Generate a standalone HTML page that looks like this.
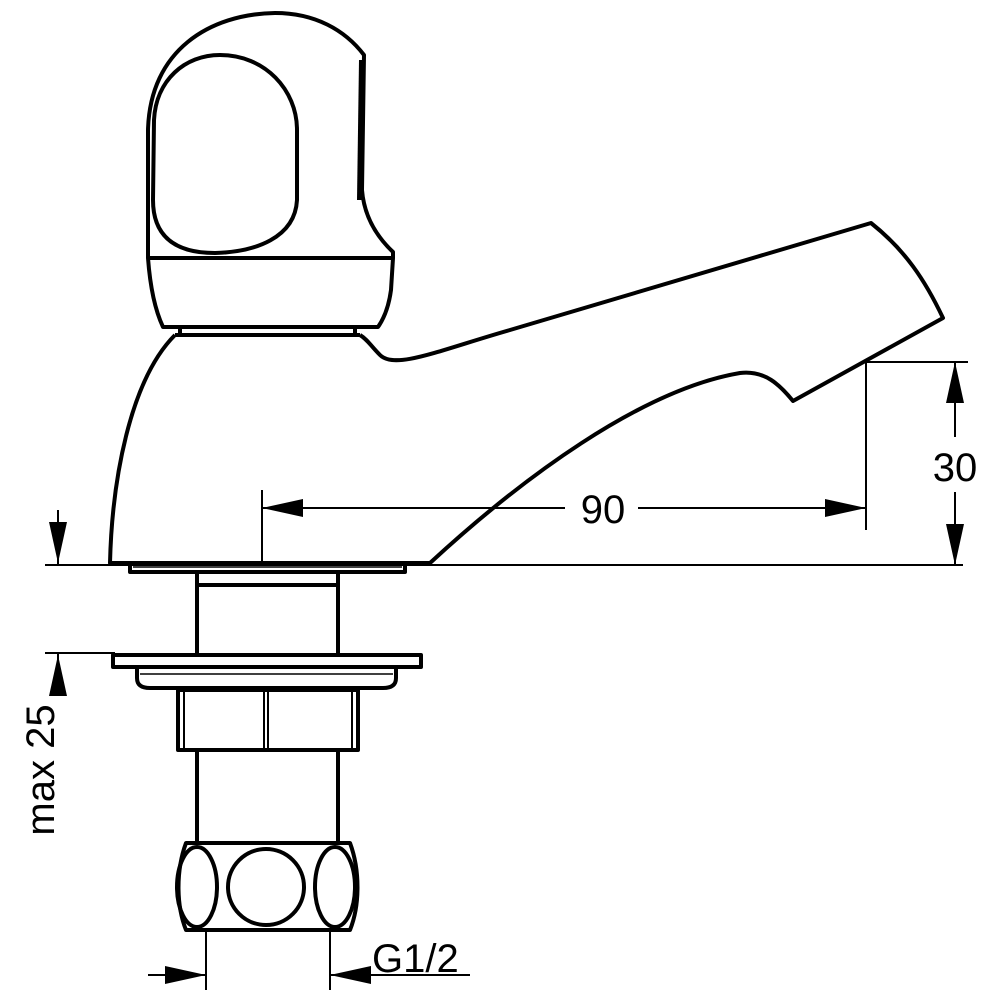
<!DOCTYPE html>
<html><head><meta charset="utf-8"><style>body{margin:0;background:#fff}svg{display:block}</style></head>
<body>
<svg width="1000" height="1000" viewBox="0 0 1000 1000" xmlns="http://www.w3.org/2000/svg">
<g fill="none" stroke="#000" stroke-width="4" stroke-linejoin="round">
<!-- handle -->
<path d="M148,258 L148,130 C150,50 210,14 275,13 C315,13 345,30 364,55 L362,190 C364,215 375,235 393,252 L393,258"/>
<path d="M148,258 L393,258 L391,290 C389,305 385,317 378,327 L163,327 C155,310 150,285 148,258 Z"/>
<path d="M220,55 C265,55 297,90 297,130 L297,200 C295,238 255,252 215,253 C170,253 153,232 153,200 L154,120 C156,80 185,55 220,55 Z"/>
<path d="M362,60 L360,200" stroke-width="6"/>
<path d="M180,327 L180,335 M355,327 L355,335 M175,335 L360,335"/>
<!-- body -->
<path d="M175,335 C130,380 112,480 110,563 L430,563 C520,480 640,390 740,373 C765,370 780,385 793,401 L943,318 C925,280 905,250 871,223 L510,330 C440,350 395,370 380,355 C370,345 368,340 360,335"/>
<!-- base plate & stem -->
<path d="M130,563 L130,572 L405,572 L405,563" />
<path d="M133,567 L402,567" stroke-width="1.5"/>
<path d="M197,572 L197,653 M338,572 L338,653 M197,585 L338,585"/>
<rect x="113" y="655" width="308" height="12"/>
<path d="M137,667 L137,678 C137,686 143,688 150,688 L383,688 C390,688 396,686 396,678 L396,667"/>
<path d="M140,674 L393,674" stroke-width="1.5"/>
<rect x="178" y="690" width="180" height="60"/>
<path d="M184,690 L184,750 M352,690 L352,750 M264,690 L264,750 M268,690 L268,750" stroke-width="2"/>
<path d="M197,750 L197,843 M338,750 L338,843"/>
<!-- hex nut -->
<path d="M186,843 L350,843 C360,870 360,905 350,930 L186,930 C176,905 176,870 186,843 Z"/>
<ellipse cx="197" cy="887" rx="20" ry="40"/>
<ellipse cx="335" cy="887" rx="20" ry="40"/>
<ellipse cx="266" cy="887" rx="38" ry="38"/>
</g>
<!-- dimensions -->
<g stroke="#000" stroke-width="2" fill="none">
<path d="M45,565 L963,565"/>
<path d="M866,362 L968,362 M866,362 L866,530"/>
<path d="M955,362 L955,437 M955,492 L955,565"/>
<path d="M262,490 L262,565"/>
<path d="M262,508 L565,508 M638,508 L866,508"/>
<path d="M58,510 L58,565"/>
<path d="M45,653 L115,653 M58,653 L58,690"/>
<path d="M206,930 L206,990 M330,930 L330,990"/>
<path d="M148,975 L206,975 M330,975 L470,975"/>
</g>
<g fill="#000">
<polygon points="955,362 946,403 964,403"/>
<polygon points="955,565 946,524 964,524"/>
<polygon points="262,508 303,499 303,517"/>
<polygon points="866,508 825,499 825,517"/>
<polygon points="58,563 49,522 67,522"/>
<polygon points="58,655 49,696 67,696"/>
<polygon points="206,975 165,966 165,984"/>
<polygon points="330,975 371,966 371,984"/>
</g>
<g font-family="Liberation Sans, sans-serif" font-size="40" fill="#000">
<text x="955" y="481" text-anchor="middle">30</text>
<text x="603" y="523" text-anchor="middle">90</text>
<text x="372" y="972">G1/2</text>
<text transform="translate(54,770) rotate(-90)" text-anchor="middle">max 25</text>
</g>
</svg>
</body></html>
